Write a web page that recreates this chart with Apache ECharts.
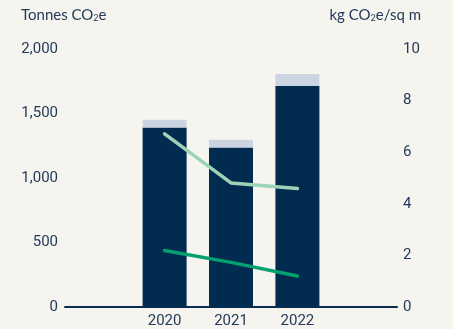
<!DOCTYPE html>
<html><head><meta charset="utf-8">
<script src="https://cdn.jsdelivr.net/npm/echarts@6/dist/echarts.min.js"></script>
<style>html,body{margin:0;padding:0;background:#f5f4ef}#c{width:453px;height:329px}</style>
</head><body><div id="c"></div>
<script>
const categories = ['', '2020', '2021', '2022', ''];
const tonnesMain = [null, 1392, 1236, 1714, null];
const tonnesExtra = [null, 60, 61, 93, null];
const intensityHigh = [null, 6.71, 4.81, 4.59, null];
const intensityLow = [null, 2.19, 1.73, 1.20, null];
const leftTicks = { min: 0, max: 2000, interval: 500 };
const rightTicks = { min: 0, max: 10, interval: 2 };

const txt = '#243a5a';
const chart = echarts.init(document.getElementById('c'), null, { renderer: 'canvas' });
chart.setOption({
  backgroundColor: '#f5f4ef',
  animation: false,
  textStyle: { fontFamily: 'Roboto' },
  graphic: [
    { type: 'text', left: 21, top: 8, style: { rich: { a: { fontSize: 15, fill: txt, fontFamily: 'Lato' }, s: { fontSize: 9, fill: txt, fontFamily: 'Lato', verticalAlign: 'bottom', padding: [6, 0, 0, 0] } }, text: '{a|Tonnes CO}{s|2}{a|e}' } },
    { type: 'text', right: 32, top: 8, style: { rich: { a: { fontSize: 15, fill: txt, fontFamily: 'Lato' }, s: { fontSize: 9, fill: txt, fontFamily: 'Lato', verticalAlign: 'bottom', padding: [6, 0, 0, 0] } }, text: '{a|kg CO}{s|2}{a|e/sq m}' } }
  ],
  grid: { left: 65, right: 56, top: 49, bottom: 22 },
  xAxis: {
    type: 'category', data: categories,
    axisLine: { lineStyle: { color: '#0a2c4f', width: 2 } },
    axisTick: { show: false },
    axisLabel: { color: txt, fontSize: 15, margin: 7 }
  },
  yAxis: [
    { type: 'value', min: leftTicks.min, max: leftTicks.max, interval: leftTicks.interval,
      splitLine: { show: false }, axisLine: { show: false }, axisTick: { show: false },
      axisLabel: { color: txt, fontSize: 15, margin: 7,
        formatter: v => v.toLocaleString('en-US') } },
    { type: 'value', min: rightTicks.min, max: rightTicks.max, interval: rightTicks.interval,
      splitLine: { show: false }, axisLine: { show: false }, axisTick: { show: false },
      axisLabel: { color: txt, fontSize: 15, margin: 6 } }
  ],
  series: [
    { type: 'bar', stack: 't', data: tonnesMain, barWidth: 44, itemStyle: { color: '#022b50' } },
    { type: 'bar', stack: 't', data: tonnesExtra, barWidth: 44, itemStyle: { color: '#cdd4e1' } },
    { type: 'line', yAxisIndex: 1, data: intensityHigh, symbol: 'none',
      lineStyle: { color: '#9dd3b8', width: 3.5, cap: 'round' } },
    { type: 'line', yAxisIndex: 1, data: intensityLow, symbol: 'none',
      lineStyle: { color: '#05a06f', width: 3.5, cap: 'round' } }
  ]
});
</script></body></html>
